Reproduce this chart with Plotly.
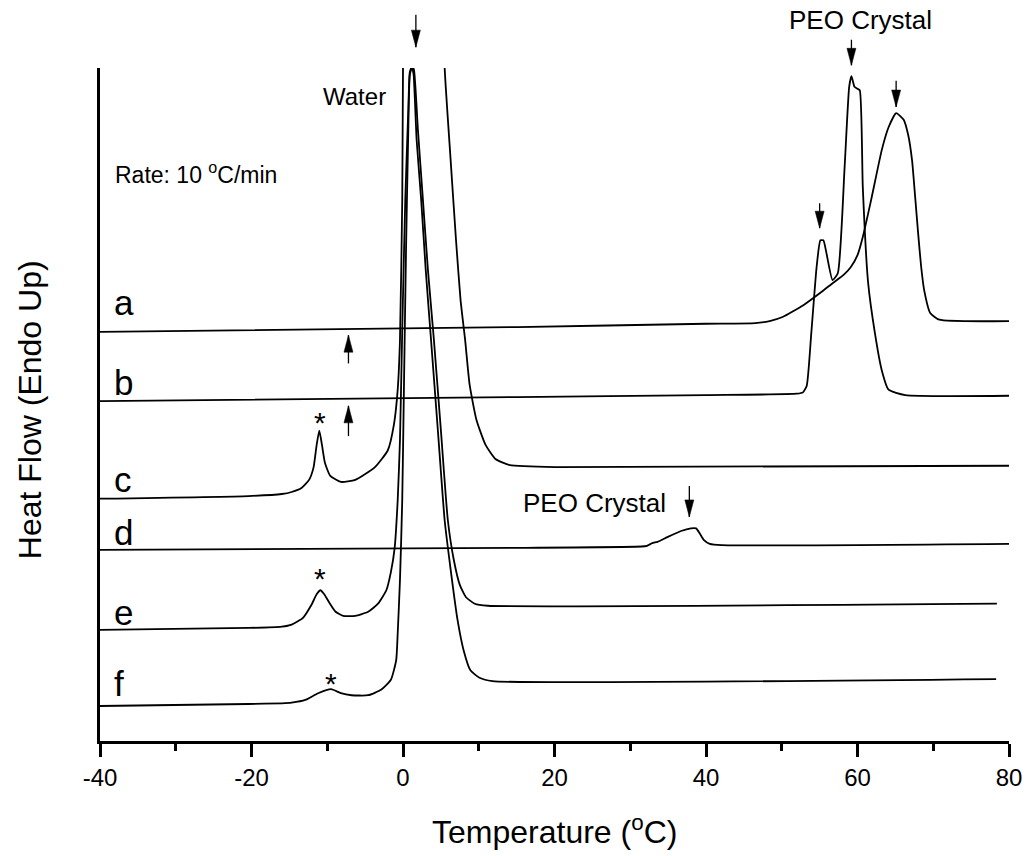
import plotly.graph_objects as go

# DSC heating traces, temperature in degC, heat flow in arbitrary units (curves offset vertically)
a_T = [-40, 15.1, 40.0, 46.5, 48.4, 50.1, 52.9, 55.1, 56.8, 58.2, 59.1, 60.0, 60.7, 61.8, 63.2, 64.1,
       65.1, 66.1, 66.7, 67.2, 67.6, 68.0, 68.4, 68.8, 69.6, 70.8, 80]
a_hf = [6.08, 6.15, 6.20, 6.21, 6.24, 6.30, 6.48, 6.66, 6.81, 6.93, 7.04, 7.22, 7.49, 8.04, 8.78, 9.12,
        9.33, 9.23, 9.00, 8.63, 8.10, 7.55, 7.05, 6.70, 6.36, 6.26, 6.24]

b_T = [-40, 15.1, 40.0, 52.0, 52.8, 53.3, 53.9, 54.6, 55.1, 55.5, 55.9, 56.7, 57.4, 58.3, 58.9, 59.2,
       59.6, 60.0, 60.3, 60.7, 61.4, 62.3, 63.2, 64.1, 66.3, 80]
b_hf = [5.05, 5.11, 5.14, 5.16, 5.18, 5.28, 6.06, 7.04, 7.44, 7.44, 7.25, 6.85, 6.95, 8.53, 9.72, 9.88,
        9.72, 9.69, 9.67, 8.23, 6.81, 6.06, 5.51, 5.22, 5.14, 5.13]

c_T = [-40, -20.4, -16.0, -14.7, -13.4, -12.4, -11.8, -11.4, -11.05, -10.7, -10.3, -9.6, -8.2, -6.3,
       -3.7, -2.0, -1.2, -0.7, -0.4, -0.1, 0.0, 0.5, 2.5, 4.5, 5.5, 6.2, 7.0, 7.6, 8.2, 8.8, 9.7, 10.9,
       12.2, 14.1, 20.4, 80]
c_hf = [3.60, 3.64, 3.67, 3.70, 3.76, 3.88, 4.07, 4.40, 4.61, 4.40, 4.13, 3.94, 3.85, 3.88,
        4.07, 4.32, 4.70, 5.22, 5.96, 8.04, 10.0, 14.0, 16.0, 14.0, 10.0, 8.78, 7.44, 6.55, 5.96, 5.29,
        4.77, 4.40, 4.19, 4.10, 4.07, 4.09]

d_T = [-40, 15.1, 31.5, 32.2, 32.9, 33.6, 34.9, 36.7, 38.0, 38.7, 39.2, 39.7, 40.5, 42.1, 80]
d_hf = [2.84, 2.87, 2.89, 2.90, 2.94, 2.96, 3.03, 3.12, 3.16, 3.16, 3.08, 2.99, 2.93, 2.91, 2.93]

e_T = [-40, -20.4, -16.0, -14.7, -13.2, -12.1, -11.4, -10.9, -10.4, -9.7, -8.9, -7.9, -6.3, -4.6,
       -3.3, -2.2, -1.6, -1.1, -0.7, -0.4, -0.1, 0.3, 0.7, 0.9, 1.2, 1.45, 1.97, 2.63, 3.29, 4.08, 5.0,
       5.92, 6.71, 7.5, 8.29, 9.47, 11.2, 78.4]
e_hf = [1.65, 1.68, 1.70, 1.73, 1.83, 2.02, 2.18, 2.24, 2.18, 2.05, 1.92, 1.86, 1.86, 1.92,
        2.04, 2.24, 2.51, 2.87, 3.58, 4.47, 6.11, 8.04, 9.38, 9.94, 10.03, 9.97, 9.08, 8.04, 7.00, 5.96,
        4.62, 3.28, 2.69, 2.32, 2.14, 2.04, 2.01, 2.04]

f_T = [-40, -20.4, -16.0, -14.7, -12.9, -11.2, -9.5, -8.2, -6.8, -4.6, -2.9, -1.6, -0.9, -0.7, -0.4,
       -0.1, 0.1, 0.4, 0.7, 0.9, 1.2, 1.4, 1.8, 2.4, 3.0, 3.7, 4.6, 5.5, 6.3, 7.2, 8.0, 8.9, 10.1, 11.8,
       78.3]
f_hf = [0.52, 0.55, 0.56, 0.57, 0.61, 0.71, 0.77, 0.71, 0.68, 0.68, 0.76, 0.91, 1.20, 1.60, 2.39,
        3.58, 5.07, 7.30, 9.08, 9.90, 10.01, 9.90, 8.93, 8.04, 7.00, 5.96, 4.62, 3.28, 2.54, 1.80, 1.35,
        1.05, 0.94, 0.89, 0.92]

curves = [(a_T, a_hf), (b_T, b_hf), (c_T, c_hf), (d_T, d_hf), (e_T, e_hf), (f_T, f_hf)]

# curve letters: (label, temperature, heat flow)
letter_labels = [("a", -38.4, 6.51), ("b", -38.4, 5.32), ("c", -38.4, 3.89),
                 ("d", -38.4, 3.10), ("e", -38.4, 1.91), ("f", -38.4, 0.86)]
# asterisks marking the small pre-melting peaks
star_marks = [(-10.9, 4.74), (-10.9, 2.41), (-9.5, 0.85)]

x_ticks = [-40, -20, 0, 20, 40, 60, 80]
x_tick_text = ["-40", "-20", "0", "20", "40", "60", "80"]

FONT = "Liberation Sans, Arial, sans-serif"
Y0, Y1 = 0.0, 10.0

fig = go.Figure()
for T, hf in curves:
    fig.add_trace(go.Scatter(x=T, y=hf, mode="lines",
                             line=dict(color="black", width=1.8, shape="spline", smoothing=0.5),
                             showlegend=False, hoverinfo="skip"))


def label(x, y, text, size, xref="x", yref="y", **kw):
    d = dict(x=x, y=y, xref=xref, yref=yref, text=text, showarrow=False,
             xanchor="center", yanchor="middle",
             font=dict(size=size, color="black", family=FONT))
    d.update(kw)
    return d


ann = []
for txt, x, y in letter_labels:
    ann.append(label(x, y, txt, 35, xanchor="left"))
for x, y in star_marks:
    ann.append(label(x, y, "*", 30))

ann += [
    label(-6.45, 9.58, "Water", 24),
    label(-38.3, 8.44, "Rate: 10 <sup>o</sup>C/min", 23, xanchor="left"),
    label(60.4, 1.071, "PEO Crystal", 26, yref="paper"),
    label(25.3, 3.54, "PEO Crystal", 26),
    label(-0.0767, 0.492, "Heat Flow (Endo Up)", 32, xref="paper", yref="paper", textangle=-90),
    label(0.5, -0.132, "Temperature (<sup>o</sup>C)", 32, xref="paper", yref="paper"),
]

# arrows: (temperature, tip height, tail height) in paper units of the plot height
down_arrows = [(1.7, 1.031, 1.079), (59.2, 1.004, 1.042), (65.1, 0.942, 0.981),
               (55.0, 0.762, 0.799), (37.8, 0.333, 0.379)]
up_arrows = [(-7.2, 0.603, 0.561), (-7.2, 0.498, 0.453)]

shapes = []
HEAD_L, HEAD_W = 17, 4.5
for x, tip, tail in down_arrows + up_arrows:
    shapes.append(dict(type="line", xref="x", yref="paper", x0=x, x1=x, y0=tip, y1=tail,
                       line=dict(color="black", width=1.3)))
    sgn = 1 if tail > tip else -1
    shapes.append(dict(type="path", xref="x", yref="paper", xsizemode="pixel", ysizemode="pixel",
                       xanchor=x, yanchor=tip,
                       path=f"M 0,0 L {-HEAD_W},{sgn*HEAD_L} L {HEAD_W},{sgn*HEAD_L} Z",
                       fillcolor="black", line=dict(color="black", width=0.5)))

fig.update_layout(
    width=1034, height=856,
    margin=dict(l=100, r=21, t=68, b=115),
    paper_bgcolor="white", plot_bgcolor="white",
    annotations=ann, shapes=shapes,
    xaxis=dict(range=[-40, 80], tickmode="array", tickvals=x_ticks, ticktext=x_tick_text,
               showgrid=False, zeroline=False,
               showline=True, linecolor="black", linewidth=2.5, ticks="outside", ticklen=13,
               tickwidth=2.5, tickcolor="black",
               minor=dict(ticks="outside", ticklen=7, tickwidth=2.5, tickcolor="black",
                          tickmode="linear", dtick=10, tick0=-40, showgrid=False),
               tickfont=dict(size=24, color="black", family=FONT)),
    yaxis=dict(range=[Y0, Y1], showgrid=False, zeroline=False, showline=True, linecolor="black",
               linewidth=2.5, ticks="", showticklabels=False),
)

fig.write_html("out.html")
